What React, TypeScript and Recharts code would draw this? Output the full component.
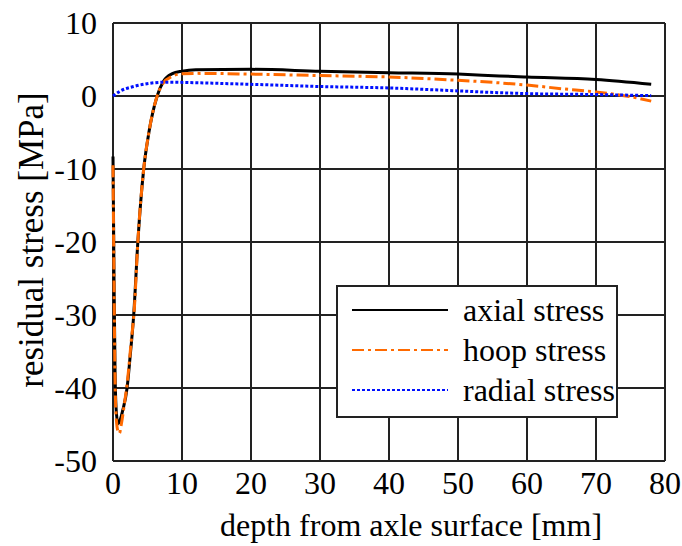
import React from "react";
import {
  LineChart,
  Line,
  XAxis,
  YAxis,
  CartesianGrid,
  Legend,
} from "recharts";

// depth [mm] / stress [MPa]
const axialDepth = [0, 0.15, 0.3, 0.5, 0.75, 1.0, 1.4, 2.04, 2.5, 3.0, 3.6, 4.45, 5.2, 6.4, 7.3, 8.6, 10, 12, 20, 30, 40, 50, 56, 60, 70, 78];
const axialStress = [-8.3, -25, -38, -43.5, -44.9, -44.5, -43.1, -40, -35.5, -30, -20, -10, -5, 0, 2, 3.06, 3.4, 3.6, 3.65, 3.4, 3.2, 3.0, 2.75, 2.6, 2.25, 1.6];

const hoopDepth = [0, 0.15, 0.3, 0.5, 0.75, 0.93, 1.2, 1.6, 2.1, 2.6, 3.1, 3.6, 4.45, 5.2, 6.4, 7.3, 8.6, 10, 12, 20, 30, 40, 50, 56, 60, 65, 70, 75, 78];
const hoopStress = [-9.5, -26, -39, -44.5, -46, -46.2, -45, -42.5, -39, -34, -29, -20, -10, -5, 0, 1.8, 2.7, 3.05, 3.1, 3.0, 2.8, 2.6, 2.15, 1.8, 1.5, 1.0, 0.55, -0.1, -0.7];

const radialDepth = [0, 1, 3, 5.4, 7.8, 12.7, 20, 30, 40, 50, 56, 60, 70, 78];
const radialStress = [0, 0.65, 1.3, 1.75, 1.9, 1.8, 1.6, 1.3, 1.1, 0.7, 0.45, 0.33, 0.2, 0.05];

const xTicks = [0, 10, 20, 30, 40, 50, 60, 70, 80];
const yTicks = [10, 0, -10, -20, -30, -40, -50];

const zip = (xs: number[], ys: number[]) => xs.map((x, i) => ({ x, y: ys[i] }));

const FONT = '"Liberation Serif", "Times New Roman", serif';
const FS = 32;

const YLabel = ({ viewBox }: any) => {
  const cy = viewBox.y + viewBox.height / 2 - 2;
  return (
    <text
      x={31}
      y={cy}
      transform={`rotate(-90, 31, ${cy})`}
      textAnchor="middle"
      dominantBaseline="central"
      fontSize={35}
      fontFamily={FONT}
      fill="#000"
    >
      residual stress [MPa]
    </text>
  );
};

const XLabel = ({ viewBox }: any) => (
  <text
    x={411}
    y={viewBox.y + 64}
    textAnchor="middle"
    dominantBaseline="central"
    fontSize={FS}
    fontFamily={FONT}
    fill="#000"
  >
    depth from axle surface [mm]
  </text>
);

const LegendBox = ({ payload }: any) => (
  <div
    style={{
      border: "2px solid #222",
      background: "#fff",
      width: 282,
      boxSizing: "border-box",
      padding: "3px 0 6px 0",
      fontFamily: FONT,
      fontSize: FS,
      color: "#000",
      textAlign: "left",
    }}
  >
    {(payload || []).map((p: any) => (
      <div key={p.value} style={{ display: "flex", alignItems: "center", height: 40 }}>
        <svg width={125} height={10} style={{ flex: "none" }}>
          <line
            x1={14}
            x2={110}
            y1={5}
            y2={5}
            stroke={p.color}
            strokeWidth={2}
            strokeDasharray={p.payload.strokeDasharray}
          />
        </svg>
        <span style={{ lineHeight: "32px", whiteSpace: "nowrap" }}>{p.value}</span>
      </div>
    ))}
  </div>
);

export default function App() {
  return (
    <div style={{ position: "absolute", left: 0, top: 0, background: "#fff" }}>
      <LineChart
        width={682}
        height={546}
        margin={{ top: 23, right: 17, bottom: 0, left: 0 }}
        style={{ fontFamily: FONT }}
      >
        <CartesianGrid stroke="#222" strokeWidth={2} />
        <XAxis
          type="number"
          dataKey="x"
          domain={[0, 80]}
          ticks={xTicks}
          interval={0}
          height={85}
          axisLine={false}
          tickLine={false}
          tickMargin={4}
          tick={{ fontSize: FS, fill: "#000", fontFamily: FONT }}
          label={<XLabel />}
        />
        <YAxis
          type="number"
          domain={[-50, 10]}
          ticks={yTicks}
          interval={0}
          width={113}
          axisLine={false}
          tickLine={false}
          tickMargin={10}
          tick={{ fontSize: FS, fill: "#000", fontFamily: FONT }}
          label={<YLabel />}
        />
        <Legend
          layout="horizontal"
          verticalAlign="middle"
          align="center"
          content={<LegendBox />}
          wrapperStyle={{ left: 336, top: 285, width: 284 }}
        />
        <Line
          name="axial stress"
          data={zip(axialDepth, axialStress)}
          dataKey="y"
          stroke="#000"
          strokeWidth={3}
          dot={false}
          type="monotone"
          isAnimationActive={false}
        />
        <Line
          name="hoop stress"
          data={zip(hoopDepth, hoopStress)}
          dataKey="y"
          stroke="#ff6a00"
          strokeWidth={3}
          strokeDasharray="12 4 3 4"
          dot={false}
          type="monotone"
          isAnimationActive={false}
        />
        <Line
          name="radial stress"
          data={zip(radialDepth, radialStress)}
          dataKey="y"
          stroke="#0010ff"
          strokeWidth={3}
          strokeDasharray="3 2"
          dot={false}
          type="monotone"
          isAnimationActive={false}
        />
      </LineChart>
    </div>
  );
}
